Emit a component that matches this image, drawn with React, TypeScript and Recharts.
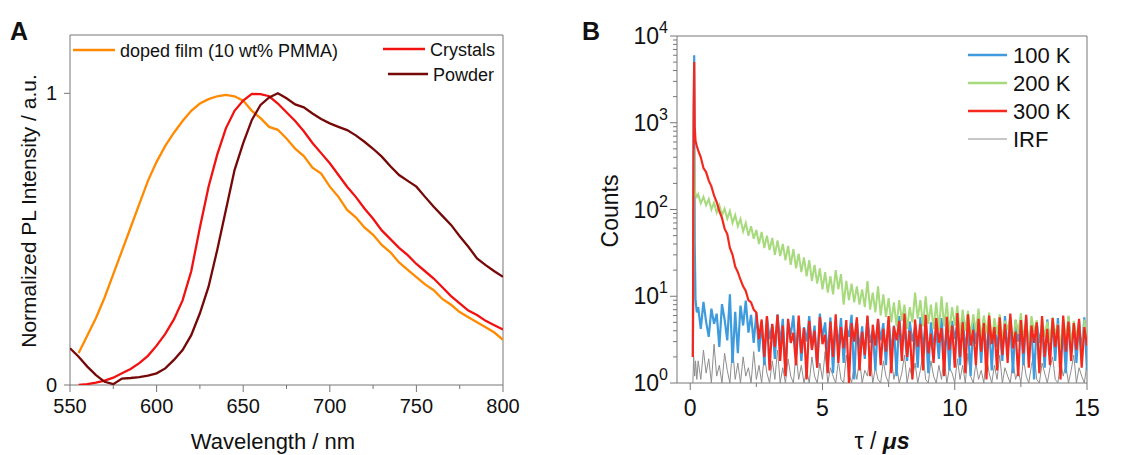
import React from "react";
import { LineChart, Line, XAxis, YAxis, ReferenceArea } from "recharts";

const FONT = "'Liberation Sans', Arial, Helvetica, sans-serif";
const INK = "#111";
const FRAME = "#777";

// ---- panel A: steady-state PL ----
const wavelengths = [
  550, 555, 560, 565, 570, 575, 580, 585, 590, 595, 600, 605, 610, 615, 620, 625, 630,
  635, 640, 645, 650, 655, 660, 665, 670, 675, 680, 685, 690, 695, 700, 705, 710, 715,
  720, 725, 730, 735, 740, 745, 750, 755, 760, 765, 770, 775, 780, 785, 790, 795, 800,
];
const dopedFilm = [
  null, 0.11, 0.17, 0.23, 0.3, 0.38, 0.46, 0.54, 0.62, 0.7, 0.765, 0.82, 0.865, 0.905, 0.94,
  0.965, 0.98, 0.99, 0.995, 0.99, 0.975, 0.94, 0.915, 0.885, 0.875, 0.845, 0.81, 0.785,
  0.745, 0.725, 0.68, 0.645, 0.6, 0.575, 0.54, 0.515, 0.48, 0.455, 0.42, 0.395, 0.37, 0.345,
  0.325, 0.295, 0.275, 0.25, 0.232, 0.215, 0.198, 0.18, 0.155,
];
const crystals = [
  null, 0.0, 0.003, 0.008, 0.015, 0.025, 0.04, 0.055, 0.075, 0.1, 0.135, 0.175, 0.225, 0.29,
  0.39, 0.54, 0.68, 0.79, 0.88, 0.94, 0.975, 0.998, 0.997, 0.99, 0.965, 0.935, 0.905, 0.87,
  0.83, 0.795, 0.76, 0.72, 0.68, 0.645, 0.605, 0.57, 0.53, 0.5, 0.47, 0.445, 0.415, 0.39,
  0.365, 0.335, 0.305, 0.28, 0.255, 0.24, 0.22, 0.205, 0.19,
];
const powder = [
  0.126, 0.097, 0.063, 0.034, 0.011, 0.003, 0.022, 0.024, 0.027, 0.032, 0.04, 0.057, 0.086,
  0.12, 0.171, 0.246, 0.337, 0.463, 0.6, 0.737, 0.829, 0.909, 0.96, 0.986, 1.0, 0.983, 0.962,
  0.952, 0.931, 0.912, 0.897, 0.885, 0.874, 0.856, 0.834, 0.81, 0.783, 0.75, 0.72, 0.7, 0.68,
  0.645, 0.611, 0.58, 0.549, 0.51, 0.474, 0.434, 0.411, 0.39, 0.371,
];
const wlTicks = [550, 575, 600, 625, 650, 675, 700, 725, 750, 775, 800];
const plTicks = [0, 1];

// ---- panel B: decay curves ----
const tauHead = [0.1, 0.13, 0.15, 0.17, 0.2, 0.25];
const tauTail = Array.from({ length: 148 }, (_, i) => +(0.3 + i * 0.1).toFixed(1));
const tau = [...tauHead, ...tauTail];

const k100 = [
  2, 800, 6000, 40, 9, 6.5,
  7.5, 4.2, 8.6, 5.1, 3.4, 7.2, 4.8, 6.3, 2.6, 8.1, 5.4, 3.1, 10.5, 1.7, 6.6, 2.2, 7.8, 4.6, 8.9, 3.8, 6.1, 2.9,
  6.4, 2.3, 5.1, 1.6, 5.8, 3.2, 4.7, 1.9, 6.2, 2.8,
  5.5, 1.4, 4.9, 3.6, 6.0, 2.1, 5.2, 1.8, 4.4, 3.0,
  5.9, 2.5, 4.6, 1.5, 6.3, 3.3, 5.0, 2.0, 5.7, 1.3,
  4.8, 2.7, 5.6, 1.7, 4.3, 3.4, 6.1, 1.1, 5.2, 2.4,
  4.5, 1.9, 5.8, 2.9, 4.0, 1.4, 5.4, 3.1, 4.9, 1.6,
  5.3, 2.2, 4.6, 1.2, 5.9, 2.6, 4.2, 1.8, 5.1, 3.0,
  4.4, 1.5, 5.7, 2.3, 4.8, 1.3, 5.0, 2.7, 4.1, 1.9,
  5.6, 2.0, 4.5, 1.4, 5.2, 3.2, 4.7, 1.6, 5.8, 2.4,
  4.3, 1.2, 5.4, 2.8, 4.9, 1.7, 5.5, 2.1, 4.6, 1.4,
  5.1, 2.6, 4.2, 1.8, 5.9, 2.3, 4.8, 1.3, 5.3, 3.0,
  4.6, 1.6, 5.7, 2.2, 4.4, 1.1, 5.0, 2.9, 4.7, 1.5,
  5.4, 2.4, 4.9, 1.8, 5.6, 2.0, 4.3, 1.3, 5.8, 2.7,
  4.5, 1.7, 5.2, 2.2, 5.7, 1.4,
];
const k200 = [
  2, 60, 500, 180, 150, 140,
  150, 118, 140, 112, 132, 100, 120, 92, 112, 86, 102, 78, 96, 70, 86, 64, 78, 56, 70, 50, 64, 46,
  58, 40, 55, 36, 50, 34, 47, 30, 44, 29,
  40, 26, 38, 23, 35, 21, 31, 19, 28, 17,
  26, 15, 23, 14, 21, 12, 19, 11, 17, 10.5,
  20, 12, 18, 8, 15, 9, 14, 8.5, 13, 8,
  12, 7.5, 15, 7, 11, 6.5, 13, 6, 10.5, 5.8,
  9.5, 5, 8.5, 4.5, 9, 5.2, 8, 4.2, 7.5, 5,
  11, 5.5, 9, 4.5, 10, 4.8, 8, 4.2, 8.5, 4,
  10, 4.5, 8.5, 3.8, 7.5, 4.6, 7.8, 3.5, 7, 4,
  6.8, 3.4, 6.2, 3.9, 7.2, 3.1, 6.0, 3.7, 6.5, 2.9,
  5.6, 3.6, 6.2, 3.0, 5.2, 4.1, 5.8, 2.8, 5.4, 3.7,
  6.4, 3.3, 5.0, 2.5, 5.9, 3.9, 5.3, 1.3, 5.6, 3.4,
  5.1, 2.9, 5.7, 3.6, 4.8, 2.4, 5.5, 3.2, 6.0, 2.7,
  5.2, 3.5, 4.6, 1.6, 5.4, 3.0,
];
const k300 = [
  2, 1500, 5000, 900, 620, 540,
  480, 400, 300, 270, 215, 185, 145, 122, 96, 80, 60, 52, 36, 30, 22, 19, 15.5, 13, 11.5, 9, 8.5, 7,
  6.5, 3.2, 5.4, 2.0, 5.9, 1.4, 4.8, 2.6, 6.1, 1.8,
  4.6, 1.2, 5.5, 2.9, 3.8, 1.6, 6.0, 2.2, 4.3, 1.1,
  5.2, 2.4, 4.0, 1.5, 5.8, 2.8, 3.6, 1.3, 5.1, 2.0,
  6.2, 1.7, 4.4, 2.5, 5.3, 1.0, 4.9, 3.0, 5.7, 1.4,
  3.9, 2.1, 6.0, 1.2, 4.7, 2.7, 5.5, 1.6, 4.2, 2.3,
  5.9, 1.3, 4.5, 3.1, 5.2, 1.8, 6.3, 2.0, 4.0, 1.1,
  5.4, 2.6, 4.8, 1.4, 6.1, 2.2, 3.7, 1.7, 5.6, 2.9,
  4.3, 1.2, 5.8, 2.4, 4.6, 1.5, 6.4, 2.0, 5.0, 1.3,
  6.2, 2.7, 4.1, 1.6, 5.5, 2.3, 4.9, 1.1, 6.0, 2.8,
  4.4, 1.4, 5.7, 2.1, 4.8, 1.7, 6.3, 2.5, 3.9, 1.2,
  5.3, 2.2, 6.1, 1.5, 4.6, 2.9, 5.0, 1.3, 5.9, 2.0,
  4.2, 1.6, 5.6, 2.6, 4.7, 1.1, 6.0, 2.3, 5.1, 1.8,
  4.9, 2.4, 5.5, 1.5, 4.4, 2.7,
];
const irf = [
  1, 2, 1.5, 1.2, 1.8, 1.1,
  1.8, 1.1, 2.4, 1.3, 1.9, 1.0, 2.8, 1.2, 1.6, 1.0, 2.2, 1.4, 1.0, 2.6, 1.1, 1.7, 1.0, 2.0, 1.2, 1.5, 1.0, 2.3,
  1.1, 1.6, 1.0, 2.1, 1.3, 1.0, 1.8, 1.1, 2.4, 1.0,
  1.5, 1.0, 1.9, 1.2, 1.0, 2.2, 1.1, 1.6, 1.0, 1.4,
  1.0, 2.0, 1.2, 1.0, 1.7, 1.1, 2.3, 1.0, 1.5, 1.2,
  1.0, 1.8, 1.1, 1.0, 2.1, 1.3, 1.0, 1.6, 1.1, 1.9,
  1.0, 1.4, 1.2, 2.2, 1.0, 1.5, 1.1, 1.0, 1.8, 1.2,
  1.0, 2.0, 1.1, 1.6, 1.0, 1.3, 2.1, 1.0, 1.5, 1.1,
  1.7, 1.0, 1.4, 2.3, 1.1, 1.0, 1.8, 1.2, 1.0, 1.6,
  1.1, 2.0, 1.0, 1.5, 1.3, 1.0, 1.9, 1.1, 1.6, 1.0,
  2.2, 1.2, 1.0, 1.7, 1.1, 1.4, 1.0, 2.0, 1.3, 1.0,
  1.6, 1.1, 2.1, 1.0, 1.5, 1.2, 1.0, 1.8, 1.1, 1.4,
  1.0, 1.9, 1.2, 1.0, 1.6, 2.2, 1.1, 1.0, 1.7, 1.3,
  1.0, 1.5, 2.0, 1.1, 1.0, 1.8, 1.2, 1.6, 1.0, 1.4,
  2.1, 1.0, 1.5, 1.2, 1.0, 1.7,
];
const tauTicks = [0, 2.5, 5, 7.5, 10, 12.5, 15];
const countTicks = [
  1, 2, 3, 4, 5, 6, 7, 8, 9,
  10, 20, 30, 40, 50, 60, 70, 80, 90,
  100, 200, 300, 400, 500, 600, 700, 800, 900,
  1000, 2000, 3000, 4000, 5000, 6000, 7000, 8000, 9000,
  10000,
];

const plRows = wavelengths.map((wl, i) => ({
  wl,
  film: dopedFilm[i],
  crystals: crystals[i],
  powder: powder[i],
}));
const decayRows = tau.map((t, i) => ({
  tau: t,
  k100: k100[i],
  k200: k200[i],
  k300: k300[i],
  irf: irf[i],
}));

const plSeries = [
  { key: "film", name: "doped film (10 wt% PMMA)", color: "#FF8A00" },
  { key: "crystals", name: "Crystals", color: "#F21111" },
  { key: "powder", name: "Powder", color: "#760808" },
];
// drawn back to front
const decaySeries = [
  { key: "irf", name: "IRF", color: "#8E8E8E", width: 1 },
  { key: "k100", name: "100 K", color: "#3E9BDD", width: 2.2 },
  { key: "k200", name: "200 K", color: "#A6DA7C", width: 2 },
  { key: "k300", name: "300 K", color: "#F5281E", width: 2.2 },
];
const decayLegendOrder = ["k100", "k200", "k300", "irf"];

const WlTick = ({ x, y, payload }: any) => {
  const major = payload.value % 50 === 0;
  return (
    <g>
      <line x1={x} x2={x} y1={y} y2={y + (major ? 7 : 4)} stroke={FRAME} />
      {major && (
        <text x={x} y={y + 28} textAnchor="middle" fontSize={20} fontFamily={FONT} fill={INK}>
          {payload.value}
        </text>
      )}
    </g>
  );
};

const PlTick = ({ x, y, payload }: any) => (
  <g>
    <line x1={x} x2={x - 6} y1={y} y2={y} stroke={FRAME} />
    <text x={x - 13} y={y + 7} textAnchor="end" fontSize={20} fontFamily={FONT} fill={INK}>
      {payload.value}
    </text>
  </g>
);

const TauTick = ({ x, y, payload }: any) => {
  const major = payload.value % 5 === 0;
  return (
    <g>
      <line x1={x} x2={x} y1={y} y2={y + (major ? 7 : 4)} stroke={FRAME} />
      {major && (
        <text x={x} y={y + 33} textAnchor="middle" fontSize={23} fontFamily={FONT} fill={INK}>
          {payload.value}
        </text>
      )}
    </g>
  );
};

const CountTick = ({ x, y, payload }: any) => {
  const exp = Math.log10(payload.value);
  const major = Math.abs(exp - Math.round(exp)) < 1e-6;
  return (
    <g>
      <line x1={x} x2={x - (major ? 7 : 4)} y1={y} y2={y} stroke={FRAME} />
      {major && (
        <text x={x - 9} y={y + 8} textAnchor="end" fontSize={23} fontFamily={FONT} fill={INK}>
          10
          <tspan dy={-11} fontSize={16}>
            {Math.round(exp)}
          </tspan>
        </text>
      )}
    </g>
  );
};

function PanelA() {
  return (
    <LineChart width={520} height={455} data={plRows} margin={{ top: 35, right: 17, left: 30, bottom: 30 }}>
      <ReferenceArea x1={550} x2={800} y1={0} y2={1.2} fill="none" stroke={FRAME} strokeWidth={1} />
      <XAxis
        dataKey="wl"
        type="number"
        domain={[550, 800]}
        ticks={wlTicks}
        interval={0}
        height={40}
        axisLine={false}
        tickLine={false}
        tickSize={0}
        tickMargin={0}
        tick={<WlTick />}
        allowDataOverflow
      />
      <YAxis
        type="number"
        domain={[0, 1.2]}
        ticks={plTicks}
        interval={0}
        width={40}
        axisLine={false}
        tickLine={false}
        tickSize={0}
        tickMargin={0}
        tick={<PlTick />}
        allowDataOverflow
      />
      {plSeries.map((s) => (
        <Line
          key={s.key}
          dataKey={s.key}
          name={s.name}
          stroke={s.color}
          strokeWidth={2.3}
          dot={false}
          type="linear"
          isAnimationActive={false}
        />
      ))}
    </LineChart>
  );
}

function PanelB() {
  return (
    <LineChart width={553} height={455} data={decayRows} margin={{ top: 36, right: 46, left: 37, bottom: 32 }}>
      <ReferenceArea x1={-0.5} x2={15} y1={1} y2={10000} fill="none" stroke={FRAME} strokeWidth={1} />
      <XAxis
        dataKey="tau"
        type="number"
        domain={[-0.5, 15]}
        ticks={tauTicks}
        interval={0}
        height={40}
        axisLine={false}
        tickLine={false}
        tickSize={0}
        tickMargin={0}
        tick={<TauTick />}
        allowDataOverflow
      />
      <YAxis
        type="number"
        scale="log"
        domain={[1, 10000]}
        ticks={countTicks}
        interval={0}
        width={60}
        axisLine={false}
        tickLine={false}
        tickSize={0}
        tickMargin={0}
        tick={<CountTick />}
        allowDataOverflow
      />
      {decaySeries.map((s) => (
        <Line
          key={s.key}
          dataKey={s.key}
          name={s.name}
          stroke={s.color}
          strokeWidth={s.width}
          dot={false}
          type="linear"
          isAnimationActive={false}
        />
      ))}
    </LineChart>
  );
}

// legend placement (px in the page)
const plLegendPos = [
  { x1: 73, x2: 115, y: 50, tx: 120 },
  { x1: 383, x2: 425, y: 49, tx: 430 },
  { x1: 388, x2: 428, y: 74, tx: 433 },
];
const decayLegendY = [55, 83, 111, 139];

function Overlay() {
  const txt = { fontFamily: FONT, fill: INK } as const;
  return (
    <svg width={1133} height={455} style={{ position: "absolute", left: 0, top: 0, pointerEvents: "none" }}>
      <text x={10} y={40} fontSize={25} fontWeight="bold" {...txt}>A</text>
      <text x={582} y={40} fontSize={25} fontWeight="bold" {...txt}>B</text>

      <text transform="translate(36,211) rotate(-90)" textAnchor="middle" fontSize={21} {...txt}>
        Normalized PL Intensity / a.u.
      </text>
      <text x={273} y={449} textAnchor="middle" fontSize={22} {...txt}>Wavelength / nm</text>

      <text transform="translate(618,211) rotate(-90)" textAnchor="middle" fontSize={23} {...txt}>Counts</text>
      <text x={882} y={449} textAnchor="middle" fontSize={23} {...txt}>
        τ / <tspan fontStyle="italic" fontWeight="bold">μs</tspan>
      </text>

      {plSeries.map((s, i) => {
        const p = plLegendPos[i];
        return (
          <g key={s.key}>
            <line x1={p.x1} x2={p.x2} y1={p.y} y2={p.y} stroke={s.color} strokeWidth={2.5} />
            <text x={p.tx} y={p.y + 6.5} fontSize={18} {...txt}>{s.name}</text>
          </g>
        );
      })}

      {decayLegendOrder.map((k, i) => {
        const s = decaySeries.find((d) => d.key === k)!;
        const y = decayLegendY[i];
        return (
          <g key={k}>
            <line x1={968} x2={1007} y1={y} y2={y} stroke={s.color} strokeWidth={s.width === 1 ? 1 : 2.5} />
            <text x={1013} y={y + 8} fontSize={22} {...txt}>{s.name}</text>
          </g>
        );
      })}
    </svg>
  );
}

export default function App() {
  return (
    <div style={{ position: "absolute", left: 0, top: 0, width: 1133, height: 455, background: "#fff" }}>
      <div style={{ position: "absolute", left: 0, top: 0 }}>
        <PanelA />
      </div>
      <div style={{ position: "absolute", left: 580, top: 0 }}>
        <PanelB />
      </div>
      <Overlay />
    </div>
  );
}
